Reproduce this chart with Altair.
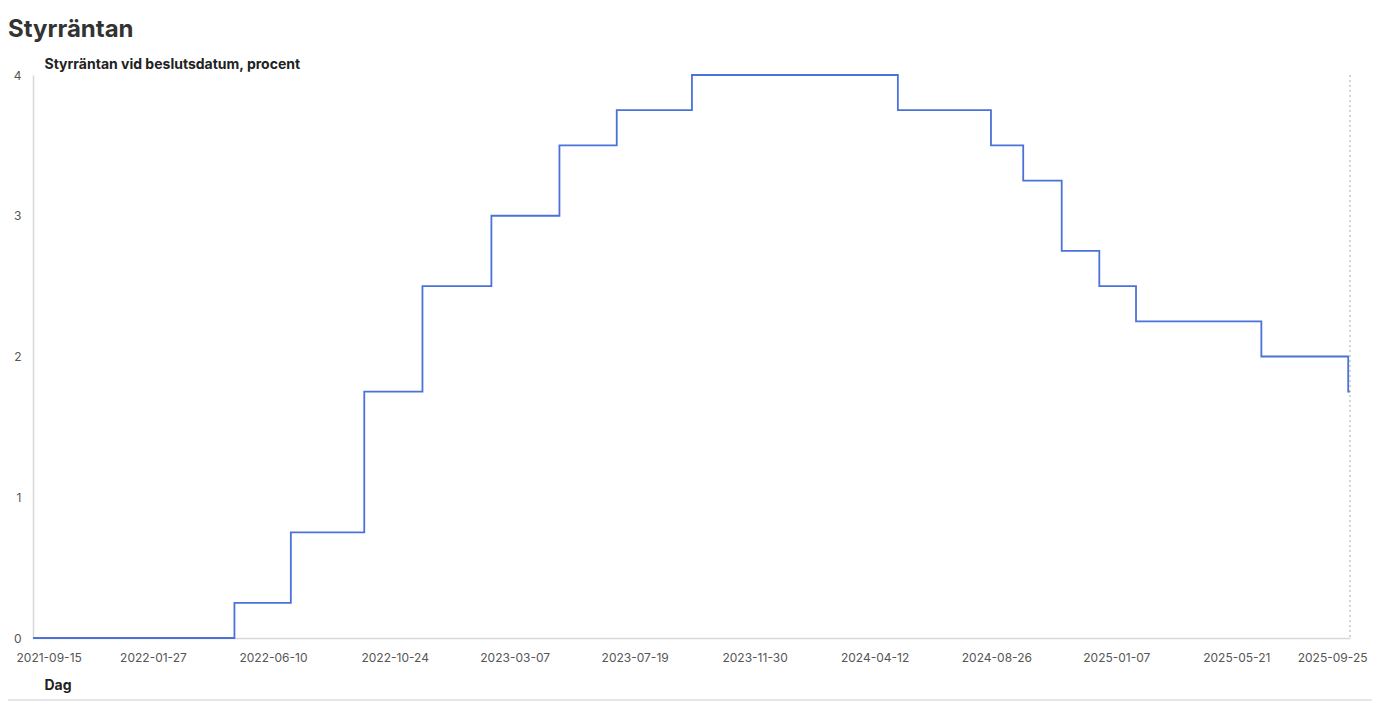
import altair as alt
import pandas as pd

decision_dates = ["2021-09-15", "2022-04-28", "2022-06-30", "2022-09-20", "2022-11-24",
                  "2023-02-09", "2023-04-26", "2023-06-29", "2023-09-21", "2024-05-08",
                  "2024-08-20", "2024-09-25", "2024-11-07", "2024-12-19", "2025-01-29",
                  "2025-06-18", "2025-09-23", "2025-09-25"]
rates = [0.0, 0.25, 0.75, 1.75, 2.5, 3.0, 3.5, 3.75, 4.0, 3.75,
         3.5, 3.25, 2.75, 2.5, 2.25, 2.0, 1.75, 1.75]
tick_dates = ["2021-09-15", "2022-01-27", "2022-06-10", "2022-10-24", "2023-03-07",
              "2023-07-19", "2023-11-30", "2024-04-12", "2024-08-26", "2025-01-07",
              "2025-05-21", "2025-09-25"]
y_ticks = [0, 1, 2, 3, 4]
end_date = ["2025-09-25"]

FONT = "Inter"


def dt(s):
    y, m, d = (int(p) for p in s.split("-"))
    return alt.DateTime(year=y, month=m, date=d, utc=True)


df = pd.DataFrame({"Dag": decision_dates, "Styrränta": rates})
end_df = pd.DataFrame({"Dag": end_date})

W, H = 1317, 563

x_scale = alt.Scale(type="utc", domain=[dt(tick_dates[0]), dt(tick_dates[-1])], nice=False)
y_scale = alt.Scale(domain=[0, 4], nice=False)

line = alt.Chart(df).mark_line(
    interpolate="step-after", color="#4a72d8", strokeWidth=1.8
).encode(
    x=alt.X("Dag:T", scale=x_scale,
            axis=alt.Axis(values=[dt(s) for s in tick_dates], format="%Y-%m-%d",
                          title="Dag", titleAngle=0, titleAlign="left", titleAnchor="start",
                          titleX=11, titleY=47, titleBaseline="middle",
                          titleFontSize=14, titleFontWeight="bold", titleColor="#222",
                          titleFont=FONT, labelFont=FONT, labelFontSize=12,
                          labelColor="#555", labelPadding=14, ticks=False,
                          grid=False, domainColor="#d8d8d8", domainWidth=1.5,
                          labelFlush=True, labelFlushOffset=17, labelOverlap=False)),
    y=alt.Y("Styrränta:Q", scale=y_scale,
            axis=alt.Axis(values=y_ticks, format="d",
                          title="Styrräntan vid beslutsdatum, procent",
                          titleAngle=0, titleAlign="left", titleAnchor="start",
                          titleX=11, titleY=-11, titleBaseline="middle",
                          titleFontSize=14, titleFontWeight="bold", titleColor="#222",
                          titleFont=FONT, labelFont=FONT, labelFontSize=12,
                          labelColor="#555", labelPadding=12, ticks=False,
                          grid=False, domainColor="#d8d8d8", domainWidth=1.5)),
)

rule = alt.Chart(end_df).mark_rule(
    color="#aaaaaa", strokeDash=[2, 3], strokeWidth=1
).encode(x=alt.X("Dag:T", scale=x_scale))

bottom_line = alt.Chart(end_df).mark_rule(color="#e6e6e6", strokeWidth=2).encode(
    x=alt.value(-60), x2=alt.value(W + 60), y=alt.value(H + 62)
)

chart = alt.layer(line, rule, bottom_line).properties(
    width=W, height=H,
    autosize=alt.AutoSizeParams(type="none"),
    padding={"left": 25, "top": 67, "right": 22, "bottom": 64},
    title=alt.TitleParams("Styrräntan", anchor="start", frame="group", dx=-25, dy=-11,
                          fontSize=24, fontWeight="bold", color="#333", font=FONT),
).configure_view(stroke=None)

chart.save("out.html", embed_options={"renderer": "svg", "actions": False})
